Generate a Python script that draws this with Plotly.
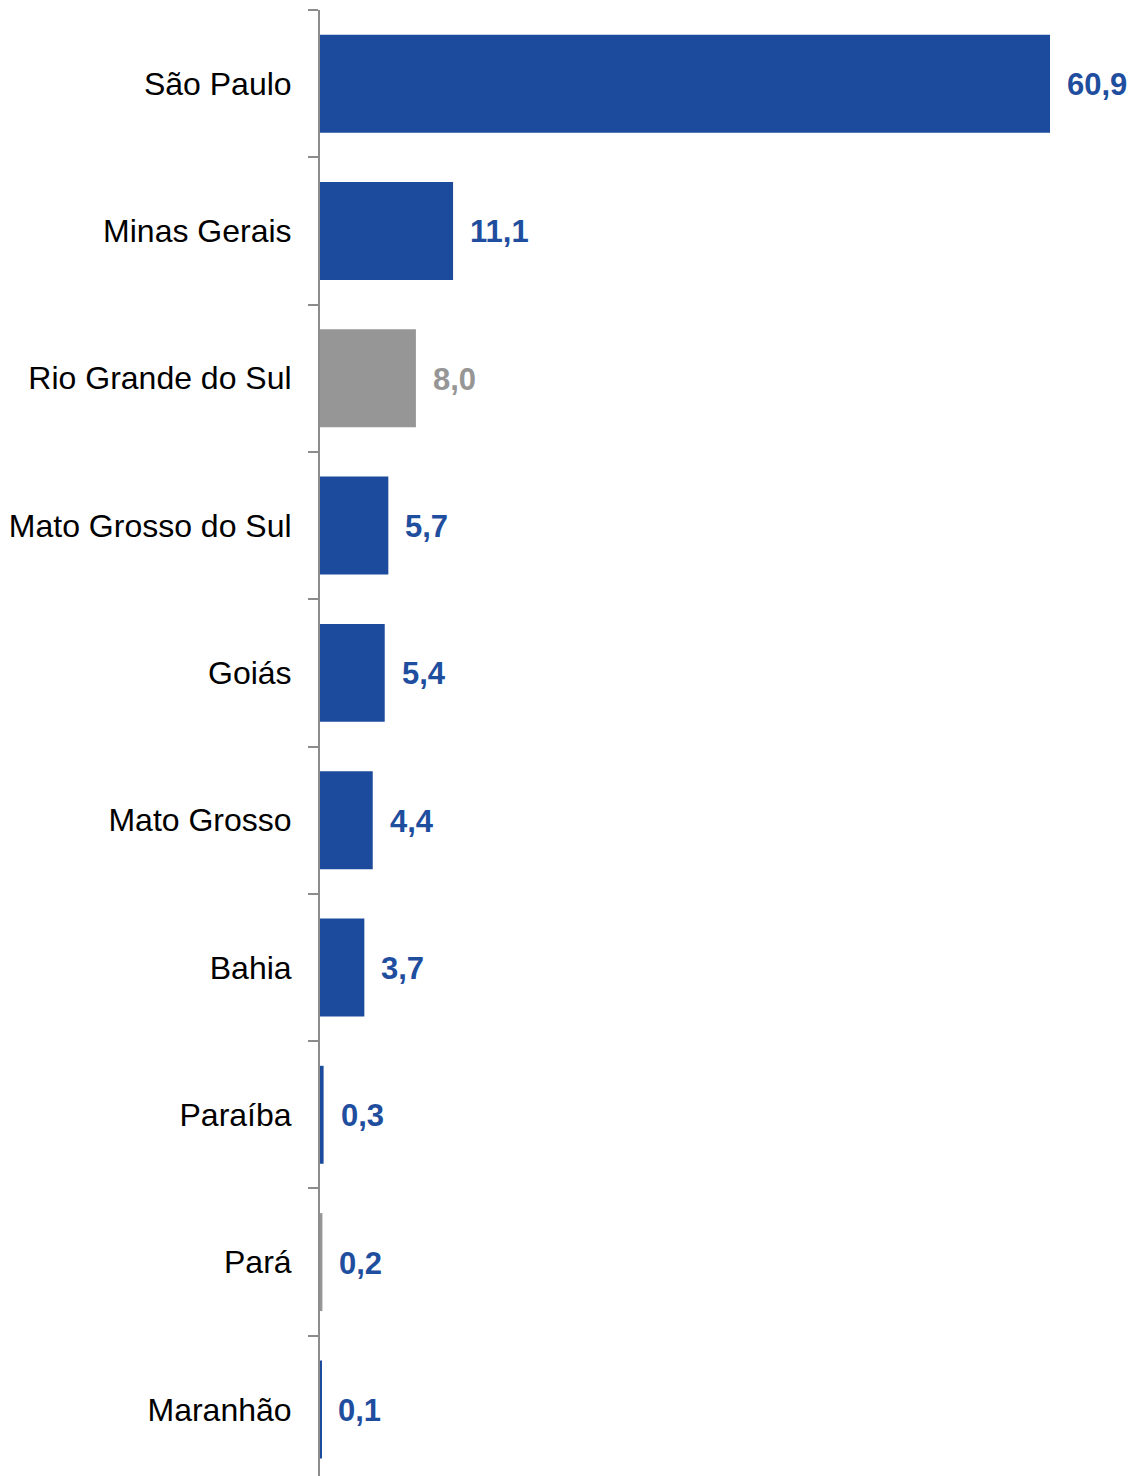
import plotly.graph_objects as go

states = ["São Paulo", "Minas Gerais", "Rio Grande do Sul", "Mato Grosso do Sul",
          "Goiás", "Mato Grosso", "Bahia", "Paraíba", "Pará", "Maranhão"]
values = [60.9, 11.1, 8.0, 5.7, 5.4, 4.4, 3.7, 0.3, 0.2, 0.1]
bar_colors = ["#1c4a9c", "#1c4a9c", "#969696", "#1c4a9c", "#1c4a9c",
              "#1c4a9c", "#1c4a9c", "#1c4a9c", "#969696", "#1c4a9c"]
label_colors = ["#1f4e9f", "#1f4e9f", "#969696", "#1f4e9f", "#1f4e9f",
                "#1f4e9f", "#1f4e9f", "#1f4e9f", "#1f4e9f", "#1f4e9f"]

fig = go.Figure()
fig.add_trace(go.Bar(
    x=values, y=states, orientation="h",
    marker=dict(color=bar_colors, line=dict(width=0)),
    hoverinfo="skip",
))

for s, v, c in zip(states, values, label_colors):
    fig.add_annotation(
        x=v, y=s, text=f"{v:.1f}".replace(".", ","),
        xanchor="left", yanchor="middle", xshift=15, yshift=-1,
        showarrow=False,
        font=dict(family="Liberation Sans, Arial, sans-serif", size=31, color=c, weight="bold"),
    )

# page body has an 8px margin, so the figure is sized/offset to compensate
fig.update_layout(
    width=1130, height=1468,
    margin=dict(l=312, r=0, t=2, b=0),
    plot_bgcolor="white", paper_bgcolor="white",
    bargap=0.335,
    showlegend=False,
    font=dict(family="Liberation Sans, Arial, sans-serif"),
)
fig.update_xaxes(range=[0, 68.24], visible=False, showgrid=False, zeroline=False)
fig.update_yaxes(
    type="category",
    range=[9.452, -0.5],
    showline=True, linecolor="#8c8c8c", linewidth=2,
    ticks="outside", tickson="boundaries", ticklen=10, tickwidth=2, tickcolor="#8c8c8c",
    tickfont=dict(size=32, color="#000000", family="Liberation Sans, Arial, sans-serif"),
    ticklabelstandoff=20,
    showgrid=False, zeroline=False,
)

fig.write_html("out.html")
